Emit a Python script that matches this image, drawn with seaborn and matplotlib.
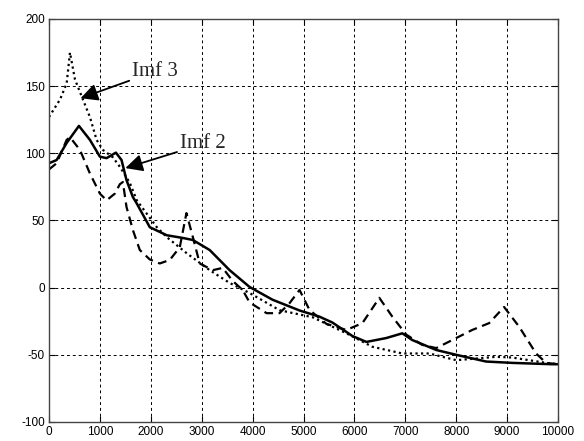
import matplotlib
matplotlib.use("Agg")
import matplotlib.pyplot as plt
import seaborn as sns
import pandas as pd

# Imf 1 (dashed)
imf1_x = [0, 150, 347, 412, 608, 804, 1000, 1131, 1294, 1392, 1451, 1523, 1647, 1784, 1980, 2176, 2372, 2569, 2700,
          2824, 2961, 3216, 3412, 3608, 3804, 3941, 4275, 4529, 4725, 4922, 5118, 5451, 5843, 6157, 6490, 6745,
          7020, 7333, 7608, 7922, 8314, 8647, 8941, 9235, 9569, 9765, 10000]
imf1_y = [88, 92.6, 110, 112, 102.5, 85, 70, 65, 70, 77, 78.6, 60, 43, 28, 21, 18, 20.6, 30, 55.5,
          38, 18, 13, 14.7, 5, -1.7, -11, -19, -19, -11.6, -1.7, -16.6, -27, -31.5, -26.4, -7.6, -21.6,
          -35, -42.6, -45, -39, -31.5, -26.4, -14.4, -29, -49, -56, -57]

# Imf 2 (solid)
imf2_x = [0, 150, 347, 588, 804, 1000, 1131, 1314, 1425, 1523, 1647, 1719, 1980, 2314, 2627, 2824, 3157, 3549,
          3941, 4392, 4922, 5314, 5569, 5961, 6235, 6627, 6941, 7137, 7608, 8000, 8588, 9098, 9882, 10000]
imf2_y = [92.6, 95, 107.7, 120.4, 110, 97.5, 96.4, 100.5, 95, 80, 67.5, 63, 45, 39, 37, 35.5, 28, 13,
          0.5, -9, -17, -21.6, -26, -36, -40.4, -37.5, -34, -39, -46.4, -50, -55, -56, -57, -57]

# Imf 3 (dotted)
imf3_x = [0, 216, 347, 412, 510, 667, 804, 935, 1060, 1255, 1392, 1588, 1725, 2118, 2314, 2706, 3157, 3549,
          3941, 4529, 5176, 5843, 6353, 6941, 7470, 8000, 8784, 9098, 9765, 10000]
imf3_y = [127, 140, 152, 175, 155, 140, 127, 110, 102.5, 97, 90, 78, 65, 45, 37.6, 25.6, 13, 3.5,
          -4, -16.8, -22, -34, -44, -49, -49, -54, -51.5, -52, -56, -57]

x_ticks = [0, 1000, 2000, 3000, 4000, 5000, 6000, 7000, 8000, 9000, 10000]
y_ticks = [-100, -50, 0, 50, 100, 150, 200]

sns.set_theme(style="white")
plt.rcParams['font.family'] = ['Liberation Sans', 'DejaVu Sans']

fig = plt.figure(figsize=(5.84, 4.41), dpi=100)
ax = fig.add_axes([0.0839, 0.0431, 0.8716, 0.9139])

df1 = pd.DataFrame({"x": imf1_x, "y": imf1_y})
df2 = pd.DataFrame({"x": imf2_x, "y": imf2_y})
df3 = pd.DataFrame({"x": imf3_x, "y": imf3_y})

sns.lineplot(data=df1, x="x", y="y", ax=ax, color="black", lw=1.6, sort=False,
             linestyle=(0, (4, 2.5)))
sns.lineplot(data=df2, x="x", y="y", ax=ax, color="black", lw=1.8, sort=False)
sns.lineplot(data=df3, x="x", y="y", ax=ax, color="black", lw=1.6, sort=False,
             linestyle=(0, (1, 1.5)))

ax.set_xlim(0, 10000)
ax.set_ylim(-100, 200)
ax.set_xticks(x_ticks)
ax.set_yticks(y_ticks)
ax.set_xticklabels([str(v) for v in x_ticks])
ax.set_yticklabels([str(v) for v in y_ticks])
ax.set_xlabel("")
ax.set_ylabel("")
ax.grid(True, color="black", linestyle=(0, (3, 3)), linewidth=0.7)
ax.tick_params(direction="in", length=4, width=0.8, labelsize=8.5, colors="black",
               top=True, right=True, bottom=True, left=True, pad=3)
for s in ax.spines.values():
    s.set_color("#444444")
    s.set_linewidth(1.0)
    s.set_visible(True)

arrow = dict(arrowstyle="-|>", color="black", lw=1.3, mutation_scale=26,
             shrinkA=0, shrinkB=0)
ax.annotate("Imf 3", xy=(620, 141), xytext=(1640, 161), fontsize=15,
            family=["Liberation Serif"], va="center", ha="left", arrowprops=arrow)
ax.annotate("Imf 2", xy=(1500, 89), xytext=(2580, 107), fontsize=15,
            family=["Liberation Serif"], va="center", ha="left", arrowprops=arrow)

fig.savefig("out.png", dpi=100)
